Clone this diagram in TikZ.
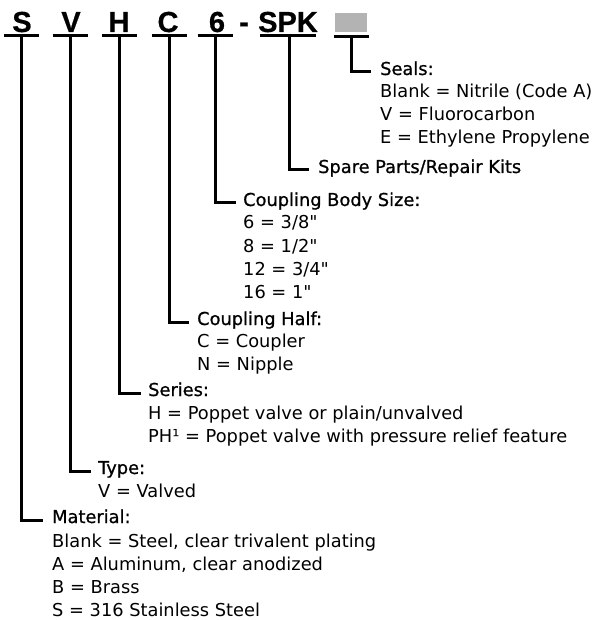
\documentclass[tikz,border=0pt]{standalone}
\usepackage{fontspec}
\setmainfont{DejaVu Sans}[Ligatures=TeXOff]
\newfontfamily\hdfont[FakeBold=0.8]{DejaVu Sans}
\newfontfamily\codefont[FakeBold=0.6]{Liberation Sans}
\definecolor{boxgray}{RGB}{179,179,179}
\begin{document}
\begin{tikzpicture}[x=1pt,y=-1pt,
  code/.style={font=\codefont\bfseries\fontsize{29}{29}\selectfont, inner sep=0pt, anchor=base},
  hd/.style={font=\hdfont\fontsize{17.8}{20}\selectfont, inner sep=0pt, anchor=base west},
  it/.style={font=\fontsize{17.8}{20}\selectfont, inner sep=0pt, anchor=base west},
  ln/.style={line width=3pt},
  ul/.style={line width=3pt}]
\useasboundingbox (0,0) rectangle (595,620);
% ---- code letters
\node[code] (cS) at (22,32) {S};
\node[code] (cV) at (71,32) {V};
\node[code] (cH) at (119,32) {H};
\node[code] (cC) at (168,32) {C};
\node[code] (c6) at (217,32) {6};
\node[code] (cD) at (244,32) {-};
\node[code] (cP) at (288,32) {SPK};
\node[fill=boxgray, minimum width=32, minimum height=19, inner sep=0pt, anchor=north west] (cG) at (335,13) {};
% ---- underline centres
\coordinate (uS) at (21.5,36);
\coordinate (uV) at (70,36);
\coordinate (uH) at (119.5,36);
\coordinate (uC) at (169,36);
\coordinate (u6) at (215,36);
\coordinate (uP) at (289.5,36);
\coordinate (uG) at (351,36.5);
\foreach \u in {uS,uV,uH,uC,u6,uG}
  \draw[ul] ([xshift=-17.5]\u) -- ([xshift=17.5]\u);
\draw[ul] ([xshift=-29.5]uP) -- ([xshift=26.5]uP);
% ---- labels
\node[hd] (seals) at (380,75) {Seals:};
\node[it] (seals1) at (380,98) {Blank = Nitrile (Code A)};
\node[it] (seals2) at (380,121) {V = Fluorocarbon};
\node[it] (seals3) at (380,144) {E = Ethylene Propylene};
\node[hd] (spare) at (318,173) {Spare Parts/Repair Kits};
\node[hd] (body) at (243,206) {Coupling Body Size:};
\node[it] (body1) at (243,229) {6 = 3/8"};
\node[it] (body2) at (243,252) {8 = 1/2"};
\node[it] (body3) at (243,275) {12 = 3/4"};
\node[it] (body4) at (243,298) {16 = 1"};
\node[hd] (half) at (197,325) {Coupling Half:};
\node[it] (half1) at (197,347) {C = Coupler};
\node[it] (half2) at (197,370) {N = Nipple};
\node[hd] (series) at (148,396) {Series:};
\node[it] (series1) at (148,419) {H = Poppet valve or plain/unvalved};
\node[it] (series2) at (148,442) {PH¹ = Poppet valve with pressure relief feature};
\node[hd] (type) at (98,474) {Type:};
\node[it] (type1) at (98,497) {V = Valved};
\node[hd] (mat) at (52,523) {Material:};
\node[it] (mat1) at (52,547) {Blank = Steel, clear trivalent plating};
\node[it] (mat2) at (52,570) {A = Aluminum, clear anodized};
\node[it] (mat3) at (52,593) {B = Brass};
\node[it] (mat4) at (52,616) {S = 316 Stainless Steel};
% ---- connectors
\draw[ln] (uG) |- ([shift={(-9,-3)}]seals.base west);
\draw[ln] (uP) |- ([shift={(-9,-3)}]spare.base west);
\draw[ln] (u6) |- ([shift={(-7,-3)}]body.base west);
\draw[ln] (uC) |- ([shift={(-8,-3)}]half.base west);
\draw[ln] (uH) |- ([shift={(-7,-3)}]series.base west);
\draw[ln] (uV) |- ([shift={(-7,-3)}]type.base west);
\draw[ln] (uS) |- ([shift={(-9,-3)}]mat.base west);
\end{tikzpicture}
\end{document}
